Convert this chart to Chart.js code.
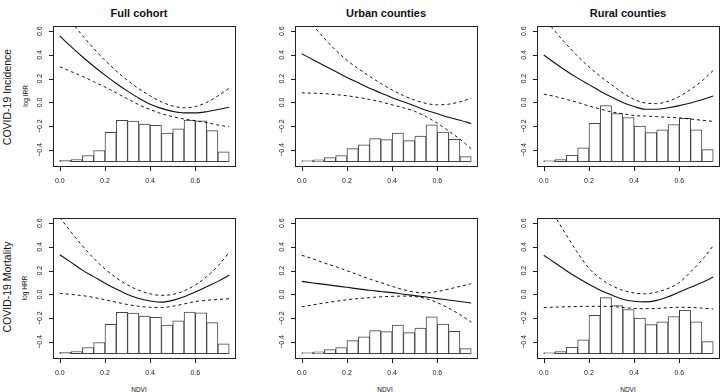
<!DOCTYPE html>
<html>
<head>
<meta charset="utf-8">
<script src="https://cdn.jsdelivr.net/npm/chart.js@4"></script>
<style>
  html, body { margin: 0; padding: 0; background: #fff; }
  body { width: 720px; height: 392px; position: relative; overflow: hidden; font-family: "Liberation Sans", Arial, sans-serif; color: #111; }
  canvas { position: absolute; }
  .txt { position: absolute; white-space: nowrap; transform: translate(-50%, -50%); }
  .title { font-size: 11px; font-weight: bold; }
  .row { font-size: 10.5px; transform: translate(-50%, -50%) rotate(-90deg); }
  .ylab { font-size: 6.5px; transform: translate(-50%, -50%) rotate(-90deg); }
  .xlab { font-size: 6.5px; }
</style>
</head>
<body>
<div class="txt title" style="left:139px; top:13px;">Full cohort</div>
<div class="txt title" style="left:386px; top:13px;">Urban counties</div>
<div class="txt title" style="left:628px; top:13px;">Rural counties</div>
<div class="txt row" style="left:7px; top:97px;">COVID-19 Incidence</div>
<div class="txt row" style="left:7px; top:287px;">COVID-19 Mortality</div>
<div class="txt ylab" style="left:25px; top:96px;">log IRR</div>
<div class="txt ylab" style="left:24px; top:288px;">log HRR</div>
<div class="txt xlab" style="left:139px; top:389px;">NDVI</div>
<div class="txt xlab" style="left:385px; top:389px;">NDVI</div>
<div class="txt xlab" style="left:628px; top:389px;">NDVI</div>

<script>
// NDVI grid for the fitted curves and histogram bin centres
const curveX = [0, 0.05, 0.1, 0.15, 0.2, 0.25, 0.3, 0.35, 0.4, 0.45, 0.5, 0.55, 0.6, 0.65, 0.7, 0.75];
const binCenters = [0.025, 0.075, 0.125, 0.175, 0.225, 0.275, 0.325, 0.375, 0.425, 0.475, 0.525, 0.575, 0.625, 0.675, 0.725];
const histBase = -0.5;

// histogram bar tops (in axis units)
const histFull = [-0.488, -0.482, -0.447, -0.405, -0.251, -0.151, -0.157, -0.182, -0.192, -0.259, -0.223, -0.148, -0.155, -0.238, -0.416];
const histUrban = [-0.489, -0.484, -0.464, -0.447, -0.389, -0.358, -0.305, -0.314, -0.258, -0.322, -0.283, -0.188, -0.25, -0.311, -0.456];
const histRural = [-0.489, -0.481, -0.445, -0.383, -0.177, -0.027, -0.094, -0.127, -0.199, -0.255, -0.23, -0.186, -0.133, -0.23, -0.397];

// COVID-19 incidence, log IRR
const incFullFit = [0.56, 0.47, 0.385, 0.305, 0.23, 0.16, 0.095, 0.035, -0.015, -0.05, -0.075, -0.088, -0.088, -0.078, -0.06, -0.04];
const incFullHi = [0.80, 0.68, 0.565, 0.455, 0.355, 0.265, 0.185, 0.115, 0.055, 0.005, -0.03, -0.045, -0.035, 0.0, 0.055, 0.12];
const incFullLo = [0.30, 0.26, 0.22, 0.175, 0.13, 0.08, 0.03, -0.02, -0.06, -0.095, -0.12, -0.14, -0.155, -0.17, -0.19, -0.205];
const incUrbanFit = [0.41, 0.36, 0.31, 0.26, 0.21, 0.165, 0.12, 0.08, 0.04, 0.005, -0.03, -0.065, -0.095, -0.125, -0.15, -0.177];
const incUrbanHi = [0.78, 0.65, 0.54, 0.44, 0.355, 0.285, 0.22, 0.16, 0.105, 0.058, 0.02, -0.008, -0.02, -0.015, 0.005, 0.035];
const incUrbanLo = [0.08, 0.078, 0.074, 0.066, 0.056, 0.042, 0.025, 0.005, -0.02, -0.045, -0.075, -0.12, -0.175, -0.24, -0.31, -0.39];
const incRuralFit = [0.40, 0.33, 0.265, 0.205, 0.15, 0.095, 0.045, 0.0, -0.035, -0.058, -0.058, -0.045, -0.027, -0.005, 0.022, 0.055];
const incRuralHi = [0.72, 0.60, 0.49, 0.39, 0.30, 0.22, 0.15, 0.08, 0.025, -0.005, -0.01, 0.01, 0.05, 0.11, 0.18, 0.27];
const incRuralLo = [0.07, 0.05, 0.025, 0.0, -0.03, -0.055, -0.08, -0.095, -0.11, -0.115, -0.12, -0.125, -0.13, -0.14, -0.15, -0.16];

// COVID-19 mortality, log HRR
const morFullFit = [0.335, 0.27, 0.205, 0.15, 0.095, 0.045, 0.0, -0.035, -0.055, -0.065, -0.05, -0.02, 0.02, 0.065, 0.11, 0.163];
const morFullHi = [0.65, 0.525, 0.41, 0.305, 0.215, 0.14, 0.08, 0.035, 0.005, -0.008, 0.0, 0.03, 0.08, 0.15, 0.24, 0.355];
const morFullLo = [0.01, 0.0, -0.01, -0.025, -0.045, -0.065, -0.085, -0.10, -0.108, -0.11, -0.10, -0.08, -0.06, -0.05, -0.042, -0.036];
const morUrbanFit = [0.11, 0.097, 0.085, 0.072, 0.06, 0.047, 0.035, 0.025, 0.015, 0.002, -0.01, -0.022, -0.035, -0.047, -0.06, -0.072];
const morUrbanHi = [0.33, 0.30, 0.265, 0.235, 0.20, 0.165, 0.13, 0.10, 0.068, 0.04, 0.02, 0.013, 0.025, 0.045, 0.068, 0.09];
const morUrbanLo = [-0.105, -0.088, -0.072, -0.058, -0.045, -0.035, -0.027, -0.02, -0.016, -0.014, -0.018, -0.035, -0.07, -0.115, -0.17, -0.235];
const morRuralFit = [0.33, 0.265, 0.20, 0.14, 0.085, 0.035, -0.005, -0.04, -0.058, -0.063, -0.05, -0.02, 0.02, 0.06, 0.10, 0.146];
const morRuralHi = [0.80, 0.655, 0.50, 0.35, 0.22, 0.135, 0.075, 0.035, 0.012, 0.005, 0.02, 0.05, 0.10, 0.19, 0.29, 0.41];
const morRuralLo = [-0.11, -0.107, -0.104, -0.102, -0.10, -0.10, -0.102, -0.11, -0.118, -0.12, -0.118, -0.112, -0.108, -0.11, -0.115, -0.123];

// axis ticks
const xTickValues = [0, 0.2, 0.4, 0.6];
const xTickLabels = ["0.0", "0.2", "0.4", "0.6"];
const yTickValues = [-0.4, -0.2, 0, 0.2, 0.4, 0.6];
const yTickLabels = ["\u22120.4", "\u22120.2", "0.0", "0.2", "0.4", "0.6"];

// R style box + axes, drawn from the chart scales
const rAxes = {
  id: "rAxes",
  afterDraw(chart) {
    const ctx = chart.ctx;
    const a = chart.chartArea;
    const xs = chart.scales.x;
    const ys = chart.scales.y;
    ctx.save();
    ctx.strokeStyle = "#222";
    ctx.lineWidth = 1;
    ctx.strokeRect(Math.round(a.left) + 0.5, Math.round(a.top) + 0.5, Math.round(a.right - a.left) - 1, Math.round(a.bottom - a.top) - 1);

    ctx.beginPath();
    xTickValues.forEach((v) => {
      const px = Math.round(xs.getPixelForValue(v)) + 0.5;
      ctx.moveTo(px, a.bottom);
      ctx.lineTo(px, a.bottom + 4);
    });
    yTickValues.forEach((v) => {
      const py = Math.round(ys.getPixelForValue(v)) + 0.5;
      ctx.moveTo(a.left, py);
      ctx.lineTo(a.left - 4, py);
    });
    ctx.stroke();

    ctx.fillStyle = "#222";
    ctx.font = "7px 'Liberation Sans', Arial, sans-serif";
    ctx.textAlign = "center";
    ctx.textBaseline = "middle";
    xTickValues.forEach((v, i) => {
      ctx.fillText(xTickLabels[i], xs.getPixelForValue(v), a.bottom + 14);
    });
    yTickValues.forEach((v, i) => {
      ctx.save();
      ctx.translate(a.left - 13, ys.getPixelForValue(v));
      ctx.rotate(-Math.PI / 2);
      ctx.fillText(yTickLabels[i], 0, 0);
      ctx.restore();
    });
    ctx.restore();
  },
};

function points(ys) {
  return curveX.map((x, i) => ({ x: x, y: ys[i] }));
}

const pad = { left: 35, right: 1, top: 4, bottom: 28 };
const boxW = 183;
const boxH = 141;
const colLeft = [53, 295, 537];
const rowTop = [26, 218];

const panels = [
  { row: 0, col: 0, hist: histFull, fit: incFullFit, hi: incFullHi, lo: incFullLo },
  { row: 0, col: 1, hist: histUrban, fit: incUrbanFit, hi: incUrbanHi, lo: incUrbanLo },
  { row: 0, col: 2, hist: histRural, fit: incRuralFit, hi: incRuralHi, lo: incRuralLo },
  { row: 1, col: 0, hist: histFull, fit: morFullFit, hi: morFullHi, lo: morFullLo },
  { row: 1, col: 1, hist: histUrban, fit: morUrbanFit, hi: morUrbanHi, lo: morUrbanLo },
  { row: 1, col: 2, hist: histRural, fit: morRuralFit, hi: morRuralHi, lo: morRuralLo },
];

panels.forEach((p) => {
  const canvas = document.createElement("canvas");
  canvas.width = pad.left + boxW + pad.right;
  canvas.height = pad.top + boxH + pad.bottom;
  canvas.style.left = colLeft[p.col] - pad.left + "px";
  canvas.style.top = rowTop[p.row] - pad.top + "px";
  document.body.appendChild(canvas);

  const lineStyle = {
    type: "line",
    borderColor: "#111",
    pointRadius: 0,
    cubicInterpolationMode: "monotone",
    clip: 0,
    order: 1,
    fill: false,
  };

  new Chart(canvas.getContext("2d"), {
    type: "line",
    data: {
      datasets: [
        Object.assign({}, lineStyle, { data: points(p.fit), borderWidth: 1.1 }),
        Object.assign({}, lineStyle, { data: points(p.hi), borderWidth: 1, borderDash: [3, 3] }),
        Object.assign({}, lineStyle, { data: points(p.lo), borderWidth: 1, borderDash: [3, 3] }),
        {
          type: "bar",
          data: binCenters.map((x, i) => ({ x: x, y: [histBase, p.hist[i]] })),
          backgroundColor: "#fff",
          borderColor: "#444",
          borderWidth: 1,
          borderSkipped: false,
          barPercentage: 1,
          categoryPercentage: 1,
          order: 2,
        },
      ],
    },
    options: {
      responsive: false,
      animation: false,
      devicePixelRatio: 1,
      layout: { padding: pad },
      plugins: { legend: { display: false }, tooltip: { enabled: false } },
      scales: {
        x: {
          type: "linear",
          min: -0.03,
          max: 0.78,
          offset: false,
          display: false,
          afterBuildTicks: (scale) => {
            scale.ticks = xTickValues.map((v) => ({ value: v }));
          },
        },
        y: {
          type: "linear",
          min: -0.544,
          max: 0.644,
          display: false,
        },
      },
    },
    plugins: [rAxes],
  });
});
</script>
</body>
</html>
